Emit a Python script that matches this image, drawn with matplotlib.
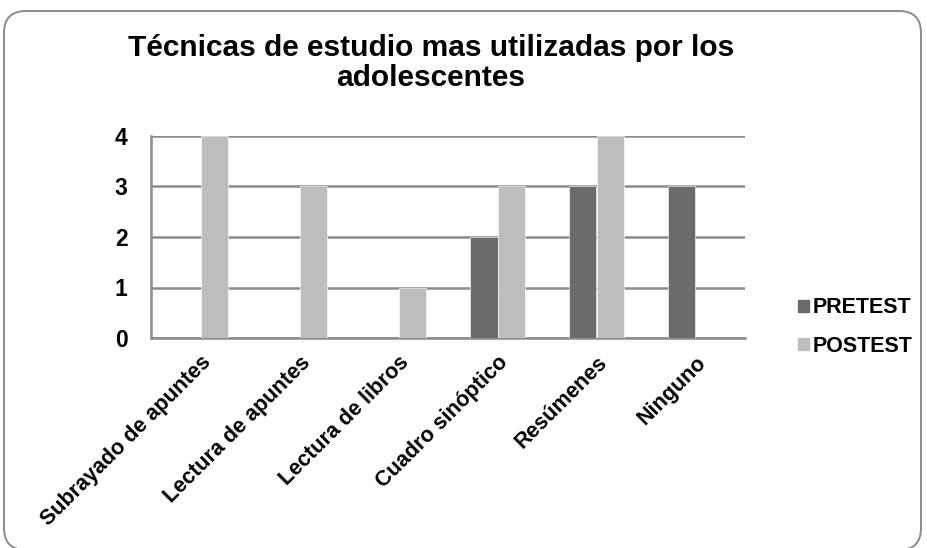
import matplotlib
matplotlib.use("Agg")
import matplotlib.pyplot as plt
from matplotlib.patches import FancyBboxPatch, Patch
import numpy as np

# --- data ---
categorias = ["Subrayado de apuntes", "Lectura de apuntes", "Lectura de libros",
              "Cuadro sinóptico", "Resúmenes", "Ninguno"]
pretest = [0, 0, 0, 2, 3, 3]
postest = [4, 3, 1, 3, 4, 0]
series = ["PRETEST", "POSTEST"]
titulo = "Técnicas de estudio mas utilizadas por los\nadolescentes"
yticks = [0, 1, 2, 3, 4]

plt.rcParams['font.family'] = ['Liberation Sans', 'DejaVu Sans']
plt.rcParams['font.weight'] = 'bold'

W, H = 927, 548
fig = plt.figure(figsize=(W / 100, H / 100), dpi=100)

# rounded frame around the whole chart, drawn in pixel units
bg = fig.add_axes([0, 0, 1, 1])
bg.set_xlim(0, W)
bg.set_ylim(H, 0)
bg.axis('off')
frame = FancyBboxPatch((4 + 22, 11 + 22), W - 6 - 44 - 4, H - 11 - 22 - 22 + 2,
                       boxstyle="round,pad=22", fc='white', ec='#8a8a8a', lw=1.4)
bg.add_patch(frame)

# plot area
left, right, top, bottom = 151, 745, 136, 338
ax = fig.add_axes([left / W, 1 - bottom / H, (right - left) / W, (bottom - top) / H])
ax.set_facecolor('none')

x = np.arange(len(categorias))
w = 0.273
c_pre = '#6b6b6b'
c_post = '#bdbdbd'
ax.bar(x - w / 2, pretest, w, color=c_pre, edgecolor='white', linewidth=0.4,
       label=series[0], zorder=3)
ax.bar(x + w / 2, postest, w, color=c_post, edgecolor='white', linewidth=0.4,
       label=series[1], zorder=3)

ax.set_xlim(-0.5, len(categorias) - 0.5)
ax.set_ylim(0, 4)
ax.set_yticks(yticks)
ax.set_yticklabels([str(v) for v in yticks], fontsize=16.5, fontweight='bold')
ax.yaxis.grid(True, color='#8c8c8c', lw=1.8, zorder=0)
ax.tick_params(axis='y', length=0, pad=17)

ax.set_xticks(x)
ax.set_xticklabels(categorias, rotation=45, ha='right', rotation_mode='anchor',
                   fontsize=15.5, fontweight='bold')
ax.tick_params(axis='x', length=0, pad=10)

for s in ['top', 'right']:
    ax.spines[s].set_visible(False)
ax.spines['left'].set_color('#8c8c8c')
ax.spines['left'].set_linewidth(1.8)
ax.spines['bottom'].set_color('#8c8c8c')
ax.spines['bottom'].set_linewidth(1.8)

fig.text(431 / W, 1 - 63 / H, titulo, ha='center', va='center', fontsize=21.5,
         fontweight='bold', linespacing=1.12)

handles = [Patch(color=c_pre, label=series[0]), Patch(color=c_post, label=series[1])]
fig.legend(handles=handles, loc='center left', bbox_to_anchor=(798 / W, 1 - 327 / H),
           frameon=False, prop={'weight': 'bold', 'size': 15.5},
           borderpad=0, borderaxespad=0,
           handlelength=0.5, handleheight=0.5, handletextpad=0.2, labelspacing=0.8)

fig.savefig("out.png", dpi=100)
